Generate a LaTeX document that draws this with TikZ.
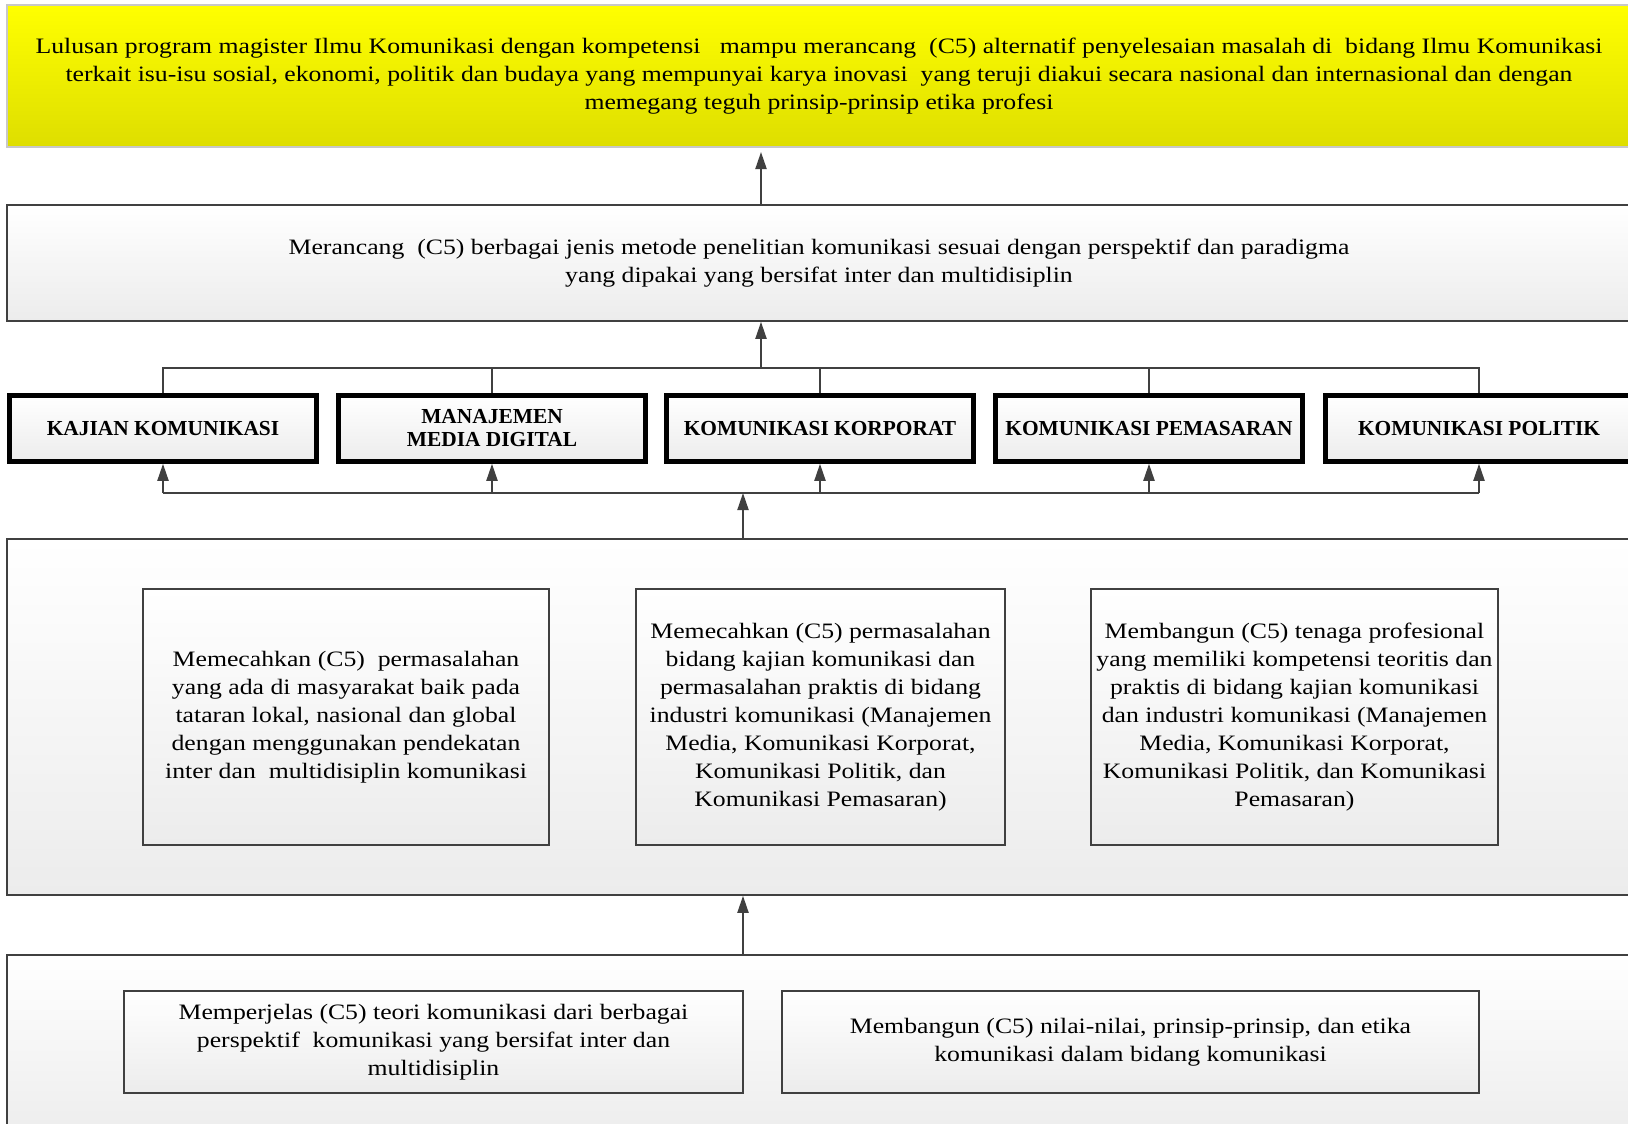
\documentclass[tikz,border=0pt]{standalone}
\usepackage{fontspec}
\setmainfont{Liberation Serif}[FakeStretch=1.17]
\newfontfamily\labelfont{Liberation Serif}
\usetikzlibrary{arrows.meta,shadings}
\definecolor{boxline}{RGB}{64,64,64}
\definecolor{wireline}{RGB}{64,64,64}
\definecolor{goalyellow}{RGB}{255,255,0}
\definecolor{goaldark}{RGB}{222,222,0}
\definecolor{shadebot}{RGB}{236,236,236}
\begin{document}
\begin{tikzpicture}[x=1pt,y=-1pt,
  txt/.style={font=\fontsize{22}{28}\selectfont, align=center},
  goalbox/.style={draw={rgb,255:red,200;green,200;blue,200}, line width=2pt,
    top color=goalyellow, bottom color=goaldark, inner sep=0pt, txt},
  widebox/.style={draw=boxline, line width=1.6pt, top color=white,
    bottom color=shadebot, inner sep=0pt, txt},
  progbox/.style={draw=black, line width=4.5pt, top color=white,
    bottom color=shadebot, inner sep=0pt, minimum width=307pt, minimum height=66pt,
    font=\labelfont\fontsize{21.4}{23}\selectfont\bfseries, align=center},
  innerbox/.style={draw=boxline, line width=1.6pt, top color=white,
    bottom color=shadebot, inner sep=0pt, txt},
  conn/.style={draw=wireline, line width=2pt},
  arr/.style={conn, -{Triangle[length=17pt,width=11pt]}},
]
\clip (0,0) rectangle (1628,1124);
\fill[white] (0,0) rectangle (1628,1124);

% graduate profile
\node[goalbox, minimum width=1624pt, minimum height=142pt] (goal) at (819,76)
  {Lulusan program magister Ilmu Komunikasi dengan kompetensi\ \ \ mampu merancang\ \ (C5) alternatif penyelesaian masalah di\ \ bidang Ilmu Komunikasi\\
   terkait isu-isu sosial, ekonomi, politik dan budaya yang mempunyai karya inovasi\ \ yang teruji diakui secara nasional dan internasional dan dengan\\
   memegang teguh prinsip-prinsip etika profesi};

% research design outcome
\node[widebox, minimum width=1624pt, minimum height=116pt] (design) at (819,263)
  {Merancang\ \ (C5) berbagai jenis metode penelitian komunikasi sesuai dengan perspektif dan paradigma\\
   yang dipakai yang bersifat inter dan multidisiplin};

% concentrations
\node[progbox] (prog1) at (163,428.5) {KAJIAN KOMUNIKASI};
\node[progbox] (prog2) at (492,428.5) {MANAJEMEN\\MEDIA DIGITAL};
\node[progbox] (prog3) at (820,428.5) {KOMUNIKASI KORPORAT};
\node[progbox] (prog4) at (1149,428.5) {KOMUNIKASI PEMASARAN};
\node[progbox] (prog5) at (1479,428.5) {KOMUNIKASI POLITIK};

% problem solving level
\node[widebox, minimum width=1624pt, minimum height=356pt] (solve) at (819,717) {};
\node[innerbox, minimum width=406pt, minimum height=256pt] (sA) at (346,717)
  {Memecahkan (C5)\ \ permasalahan\\
   yang ada di masyarakat baik pada\\
   tataran lokal, nasional dan global\\
   dengan menggunakan pendekatan\\
   inter dan\ \ multidisiplin komunikasi};
\node[innerbox, minimum width=369pt, minimum height=256pt] (sB) at (820.5,717)
  {Memecahkan (C5) permasalahan\\
   bidang kajian komunikasi dan\\
   permasalahan praktis di bidang\\
   industri komunikasi (Manajemen\\
   Media, Komunikasi Korporat,\\
   Komunikasi Politik, dan\\
   Komunikasi Pemasaran)};
\node[innerbox, minimum width=407pt, minimum height=256pt] (sC) at (1294.5,717)
  {Membangun (C5) tenaga profesional\\
   yang memiliki kompetensi teoritis dan\\
   praktis di bidang kajian komunikasi\\
   dan industri komunikasi (Manajemen\\
   Media, Komunikasi Korporat,\\
   Komunikasi Politik, dan Komunikasi\\
   Pemasaran)};

% foundation level
\node[widebox, minimum width=1624pt, minimum height=190pt] (base) at (819,1050) {};
\node[innerbox, minimum width=619pt, minimum height=102pt] (bD) at (433.5,1042)
  {Memperjelas (C5) teori komunikasi dari berbagai\\
   perspektif\ \ komunikasi yang bersifat inter dan\\
   multidisiplin};
\node[innerbox, minimum width=697pt, minimum height=102pt] (bE) at (1130.5,1042)
  {Membangun (C5) nilai-nilai, prinsip-prinsip, dan etika\\
   komunikasi dalam bidang komunikasi};

% bus junctions
\coordinate (busT) at (761,368);
\coordinate (busB) at (743,493);

% connectors
\draw[arr, shorten >=4pt] (design.north -| busT) -- (goal.south -| busT);
\draw[arr] (busT) -- (design.south -| busT);
\draw[conn] (prog1.north) -- (prog1.north |- busT) -- (prog5.north |- busT) -- (prog5.north);
\foreach \k in {2,3,4} \draw[conn] (prog\k.north) -- (prog\k.north |- busT);
\draw[conn] (prog1.south |- busB) -- (prog5.south |- busB);
\foreach \k in {1,...,5} \draw[arr] (prog\k.south |- busB) -- (prog\k.south);
\draw[arr] (solve.north -| busB) -- (busB);
\draw[arr] (base.north -| busB) -- (solve.south -| busB);
\end{tikzpicture}
\end{document}
